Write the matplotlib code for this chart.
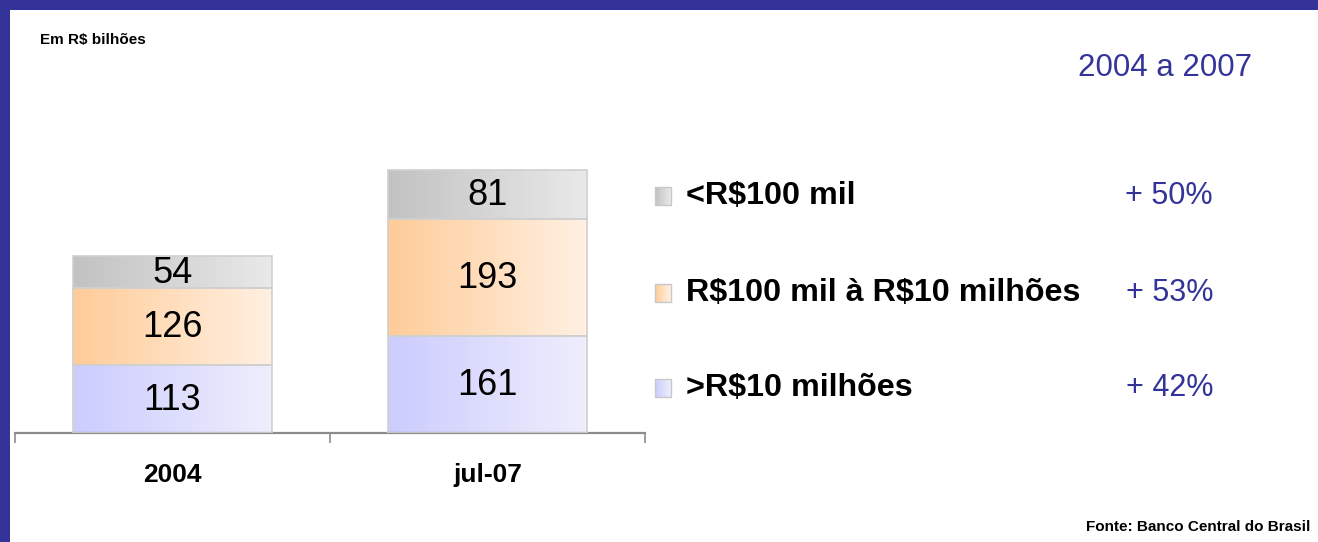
import numpy as np
import matplotlib
matplotlib.use("Agg")
import matplotlib.pyplot as plt
from matplotlib.patches import Rectangle

# dados (R$ bilhões)
categorias = ["2004", "jul-07"]
acima_10mi = [113, 161]
de_100mil_a_10mi = [126, 193]
abaixo_100mil = [54, 81]
faixas = ["<R$100 mil", "R$100 mil à R$10 milhões", ">R$10 milhões"]
variacao = ["+ 50%", "+ 53%", "+ 42%"]

AZUL = "#333399"
NARROW = ["Liberation Sans Narrow", "Liberation Sans", "DejaVu Sans"]
ARIAL = ["Liberation Sans", "DejaVu Sans"]

# gradientes (esquerda -> direita)
grad_cinza = ("#c2c2c2", "#e9e9e9")
grad_laranja = ("#ffcc99", "#fff0e2")
grad_azul = ("#ccccff", "#eeeefc")


def gradiente(c1, c2, n=64):
    a = np.array(matplotlib.colors.to_rgb(c1))
    b = np.array(matplotlib.colors.to_rgb(c2))
    t = np.linspace(0, 1, n)[:, None]
    return (a + (b - a) * t)[None, :, :]


W, H = 1318, 542
fig = plt.figure(figsize=(W / 100, H / 100), dpi=100)
fig.patch.set_facecolor("white")

# eixo do grafico de barras
px_por_unid = 0.605
y_base, y_topo = 433, 133
ax = fig.add_axes([15 / W, (H - y_base) / H, 630 / W, (y_base - y_topo) / H])
ymax = (y_base - y_topo) / px_por_unid
x = np.arange(len(categorias))
largura = 0.63

series = [(acima_10mi, grad_azul), (de_100mil_a_10mi, grad_laranja), (abaixo_100mil, grad_cinza)]
base = np.zeros(len(categorias))
for valores, grad in series:
    barras = ax.bar(x, valores, largura, bottom=base, facecolor="none",
                    edgecolor="#d0d0d0", linewidth=1.2, zorder=3)
    for b, v, y0 in zip(barras, valores, base):
        im = ax.imshow(gradiente(*grad), aspect="auto", zorder=2,
                       extent=(b.get_x(), b.get_x() + b.get_width(), y0, y0 + v))
        im.set_clip_path(b)
        ax.text(b.get_x() + b.get_width() / 2, y0 + v / 2 - 2, str(v), ha="center", va="center",
                fontsize=26, family=ARIAL, color="black", zorder=4)
    base = base + np.array(valores)

ax.set_xlim(-0.5, 1.5)
ax.set_ylim(0, ymax)
for s in ["top", "right", "left"]:
    ax.spines[s].set_visible(False)
ax.spines["bottom"].set_color("#8c8c8c")
ax.spines["bottom"].set_linewidth(1.6)
ax.set_yticks([])
ax.set_xticks([-0.5, 0.5, 1.5])
ax.set_xticklabels([])
ax.tick_params(axis="x", direction="out", length=7, width=1.2, color="#8c8c8c")
for xi, c in zip(x, categorias):
    ax.annotate(c, (xi, 0), xytext=(0, -42), textcoords="offset pixels",
                ha="center", va="center", fontsize=19, fontweight="bold", family=NARROW)

# camada de sobreposicao em pixels
ov = fig.add_axes([0, 0, 1, 1], zorder=10)
ov.set_xlim(0, W)
ov.set_ylim(H, 0)
ov.axis("off")
ov.patch.set_alpha(0)

# moldura azul
ov.add_patch(Rectangle((0, 0), W, 10, color=AZUL, lw=0))
ov.add_patch(Rectangle((0, 0), 10, H, color=AZUL, lw=0))

ov.text(40, 40, "Em R$ bilhões", fontsize=11, fontweight="bold", family=NARROW, va="center",
        parse_math=False)
ov.text(1252, 68, "2004 a 2007", fontsize=22.5, family=NARROW, color=AZUL, ha="right", va="center")
ov.text(1310, 527, "Fonte: Banco Central do Brasil", fontsize=11, fontweight="bold",
        family=NARROW, ha="right", va="center")

# legenda
linhas_y = [196, 293, 388]
legenda_grad = [grad_cinza, grad_laranja, grad_azul]
for yy, nome, pct, g in zip(linhas_y, faixas, variacao, legenda_grad):
    ov.imshow(gradiente(*g), aspect="auto", extent=(655, 671, yy + 9, yy - 9), zorder=2)
    ov.add_patch(Rectangle((655, yy - 9), 16, 18, fill=False, edgecolor="#c8c8c8", lw=1, zorder=3))
    ov.text(686, yy, nome, fontsize=23.2, fontweight="bold", family=ARIAL, va="center",
            parse_math=False)
    ov.text(1213, yy, pct, fontsize=22, family=NARROW, color=AZUL, ha="right", va="center")
ov.set_xlim(0, W)
ov.set_ylim(H, 0)

fig.savefig("out.png", dpi=100)
